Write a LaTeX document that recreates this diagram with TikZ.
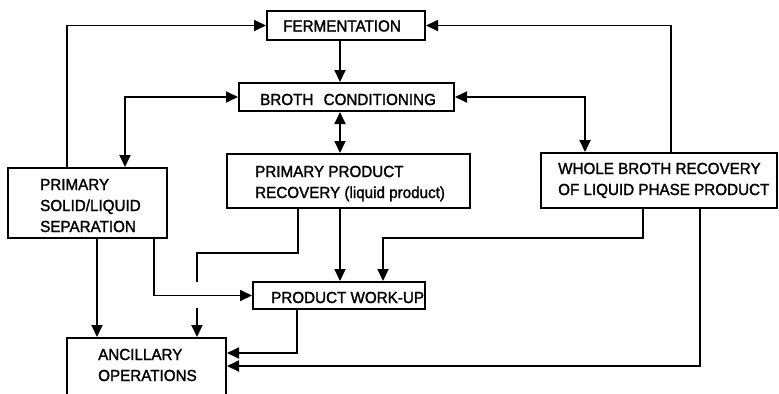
\documentclass[tikz,border=0pt]{standalone}
\usepackage{fontspec}
\setmainfont[FakeStretch=0.95,FakeBold=1.6]{Liberation Sans}
\usetikzlibrary{arrows.meta}
\begin{document}
\begin{tikzpicture}[x=1bp,y=-1bp,
  box/.style={draw,line width=2bp,inner sep=0},
  txt/.style={anchor=base west,inner sep=0,align=left,font=\fontsize{16bp}{21bp}\selectfont},
  conn/.style={line width=1.8bp},
  arr/.style={conn,-{Triangle[length=12bp,width=11bp]}},
  dbl/.style={conn,{Triangle[length=12bp,width=11bp]}-{Triangle[length=12bp,width=11bp]}}]
\useasboundingbox (0,0) rectangle (779,393);
\clip (0,0) rectangle (779,393);
% boxes
\node[box,minimum width=158bp,minimum height=29bp] (ferm)  at (346,25.5) {};
\node[box,minimum width=215bp,minimum height=28bp] (broth) at (346.5,97) {};
\node[box,minimum width=159bp,minimum height=70bp] (sls)   at (87.5,203) {};
\node[box,minimum width=243bp,minimum height=54bp] (ppr)   at (348.5,181) {};
\node[box,minimum width=236bp,minimum height=55bp] (whole) at (659,180.5) {};
\node[box,minimum width=172bp,minimum height=27bp] (work)  at (339,295.5) {};
\node[box,minimum width=159bp,minimum height=64bp] (anc)   at (146.5,370) {};
% texts (anchor = baseline of the last line)
\node[txt] (fermt)  at (283,31.5) {FERMENTATION};
\node[txt] (brotht) at (260,105) {BROTH\hspace{6bp} CONDITIONING};
\node[txt] (slst)   at (40,232) {PRIMARY\\SOLID/LIQUID\\SEPARATION};
\node[txt] (pprt)   at (255,198) {PRIMARY PRODUCT\\RECOVERY (liquid product)};
\node[txt] (wholet) at (558,195) {WHOLE BROTH RECOVERY\\OF LIQUID PHASE PRODUCT};
\node[txt] (workt)  at (271,303) {PRODUCT WORK-UP};
\node[txt] (anct)   at (98,381) {ANCILLARY\\OPERATIONS};
% helper coordinates
\coordinate (x67)  at (67,0);
\coordinate (x97)  at (97,0);
\coordinate (x125) at (125,0);
\coordinate (x154) at (154,0);
\coordinate (x297) at (297,0);
\coordinate (x298) at (298,0);
\coordinate (x340) at (340,0);
\coordinate (x585) at (585,0);
\coordinate (x643) at (643,0);
\coordinate (x671) at (671,0);
\coordinate (x700) at (700,0);
\coordinate (b7)   at (197,253);
\coordinate (g1)   at (197,282);
\coordinate (g2)   at (197,308);
\coordinate (b9)   at (383,238);
\coordinate (y353) at (0,353);
\coordinate (y366) at (0,366);
% connectors
\draw[arr] (sls.north -| x67) |- (ferm.west);
\draw[arr] (ferm.south -| x340) -- (broth.north -| x340);
\draw[dbl] (sls.north -| x125) |- (broth.west);
\draw[dbl] (broth.south -| x340) -- (ppr.north -| x340);
\draw[dbl] (broth.east) -| (whole.north -| x585);
\draw[arr] (whole.north -| x671) |- (ferm.east);
\draw[conn] (ppr.south -| x298) |- (b7) -- (g1);
\draw[arr] (g2) -- (anc.north -| g2);
\draw[arr] (ppr.south -| x340) -- (work.north -| x340);
\draw[arr] (whole.south -| x643) |- (b9) -- (work.north -| b9);
\draw[arr] (sls.south -| x97) -- (anc.north -| x97);
\draw[arr] (sls.south -| x154) |- (work.west);
\draw[arr] (work.south -| x297) |- (anc.east |- y353);
\draw[arr] (whole.south -| x700) |- (anc.east |- y366);
\end{tikzpicture}
\end{document}
